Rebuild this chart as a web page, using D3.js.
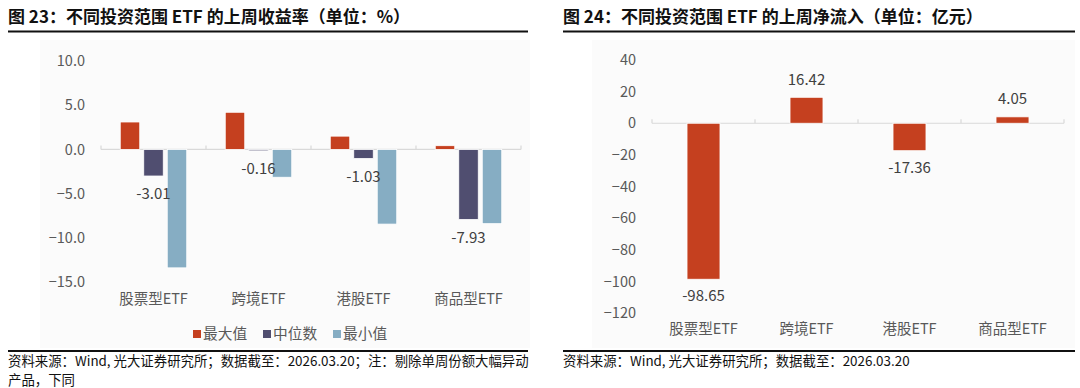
<!DOCTYPE html>
<html>
<head>
<meta charset="utf-8">
<script src="https://cdn.jsdelivr.net/npm/d3@7"></script>
<style>
  body { margin: 0; background: #fff; }
  svg text { font-family: "Noto Sans CJK SC", "Noto Sans", sans-serif; }
</style>
</head>
<body>
<div class="chart"></div>
<script>
// DATA ---------------------------------------------------------------

const categories = ['股票型ETF', '跨境ETF', '港股ETF', '商品型ETF'];

// left chart: weekly return (%)
const seriesNames = ['最大值', '中位数', '最小值'];
const maxValues = [3.1, 4.2, 1.5, 0.42];
const medianValues = [-3.01, -0.16, -1.03, -7.93];
const minValues = [-13.4, -3.15, -8.45, -8.4];
const returnTicks = [-15, -10, -5, 0, 5, 10];

// right chart: weekly net inflow (100m CNY)
const flowValues = [-98.65, 16.42, -17.36, 4.05];
const flowTicks = [-120, -100, -80, -60, -40, -20, 0, 20, 40];

const colors = ['#c5401f', '#504e70', '#86adc3'];

// CHART INIT ---------------------------------------------------------

const svg = d3.select('.chart')
    .append('svg')
    .attr('width', 1080)
    .attr('height', 388);

// faint plot backgrounds
svg.append('rect').attr('x', 40).attr('y', 40).attr('width', 490).attr('height', 308).attr('fill', '#fbfbfb');
svg.append('rect').attr('x', 592).attr('y', 40).attr('width', 483).attr('height', 308).attr('fill', '#fbfbfb');

// titles + rules
function header(x0, x1, title) {
    svg.append('text')
        .attr('x', x0).attr('y', 23)
        .attr('font-size', 17).attr('font-weight', 'bold').attr('fill', '#111')
        .text(title);
    svg.append('line')
        .attr('x1', x0).attr('x2', x1).attr('y1', 31.5).attr('y2', 31.5)
        .attr('stroke', '#111').attr('stroke-width', 2);
}
header(8, 528, '图 23：不同投资范围 ETF 的上周收益率（单位：%）');
header(563, 1075, '图 24：不同投资范围 ETF 的上周净流入（单位：亿元）');

// footers
function footer(x0, x1, lines) {
    svg.append('line')
        .attr('x1', x0).attr('x2', x1).attr('y1', 351).attr('y2', 351)
        .attr('stroke', '#111').attr('stroke-width', 2);
    lines.forEach((t, i) => {
        svg.append('text')
            .attr('x', x0).attr('y', 366 + i * 19)
            .attr('font-size', 13.4).attr('fill', '#111')
            .text(t);
    });
}
footer(8, 528, ['资料来源：Wind, 光大证券研究所；数据截至：2026.03.20；注：剔除单周份额大幅异动', '产品，下同']);
footer(563, 1075, ['资料来源：Wind, 光大证券研究所；数据截至：2026.03.20']);

// shared helpers
function styleAxis(g) {
    g.select('.domain').remove();
    g.selectAll('.tick line').remove();
    g.selectAll('.tick text')
        .attr('font-size', 14.5)
        .attr('fill', '#595959')
        .style('font-family', '"Noto Sans CJK SC", "Noto Sans", sans-serif');
}

function zeroLine(g, xScale, yScale) {
    const r = xScale.range();
    g.append('line')
        .attr('x1', r[0]).attr('x2', r[1])
        .attr('y1', yScale(0)).attr('y2', yScale(0))
        .attr('stroke', '#d9d9d9').attr('stroke-width', 1.2);
    const edges = categories.map(c => xScale(c) - xScale.step() * xScale.paddingOuter()).concat([r[1]]);
    g.selectAll('.cat-tick')
        .data(edges)
        .join('line')
        .attr('class', 'cat-tick')
        .attr('x1', d => d).attr('x2', d => d)
        .attr('y1', yScale(0) - 4).attr('y2', yScale(0))
        .attr('stroke', '#d9d9d9').attr('stroke-width', 1.2);
}

// LEFT CHART ---------------------------------------------------------

const left = svg.append('g');

const xL = d3.scaleBand()
    .domain(categories)
    .range([101, 521])
    .paddingInner(0.3667)
    .paddingOuter(0.1833);

const subX = d3.scaleBand()
    .domain(seriesNames)
    .range([0, xL.bandwidth()])
    .paddingInner(0.17)
    .paddingOuter(0);

const yL = d3.scaleLinear()
    .domain([-15, 10])
    .range([282, 61]);

left.append('g')
    .attr('transform', 'translate(101,0)')
    .call(d3.axisLeft(yL).tickValues(returnTicks).tickFormat(d3.format('.1f')).tickSize(0).tickPadding(16))
    .call(styleAxis);

zeroLine(left, xL, yL);

const leftRows = [];
categories.forEach((c, i) => {
    [maxValues, medianValues, minValues].forEach((arr, j) => {
        leftRows.push({cat: c, series: seriesNames[j], idx: j, value: arr[i]});
    });
});

left.selectAll('rect.bar')
    .data(leftRows)
    .join('rect')
    .attr('class', 'bar')
    .attr('x', d => xL(d.cat) + subX(d.series))
    .attr('width', subX.bandwidth())
    .attr('y', d => yL(Math.max(0, d.value)))
    .attr('height', d => Math.abs(yL(d.value) - yL(0)))
    .attr('fill', d => colors[d.idx])
    .attr('stroke', '#fff')
    .attr('stroke-width', 0.8);

// labels on medians only
left.selectAll('text.lbl')
    .data(leftRows.filter(d => d.idx === 1))
    .join('text')
    .attr('class', 'lbl')
    .attr('x', d => xL(d.cat) + subX(d.series) + subX.bandwidth() / 2)
    .attr('y', d => yL(d.value) + 18)
    .attr('dy', '0.35em')
    .attr('text-anchor', 'middle')
    .attr('font-size', 15)
    .attr('fill', '#404040')
    .text(d => d.value.toFixed(2));

// category labels
left.append('g')
    .attr('transform', 'translate(0,294)')
    .call(d3.axisBottom(xL).tickSize(0).tickPadding(0))
    .call(styleAxis);

// legend
const legend = left.append('g').attr('transform', 'translate(193,334)');
const legendStep = 70;
seriesNames.forEach((s, i) => {
    const g = legend.append('g').attr('transform', 'translate(' + (i * legendStep) + ',0)');
    g.append('rect').attr('x', 0).attr('y', -4).attr('width', 8).attr('height', 8).attr('fill', colors[i]);
    g.append('text').attr('x', 10).attr('y', 0).attr('dy', '0.35em')
        .attr('font-size', 14.7).attr('fill', '#595959').text(s);
});

// RIGHT CHART --------------------------------------------------------

const right = svg.append('g');

const xR = d3.scaleBand()
    .domain(categories)
    .range([652, 1064])
    .paddingInner(0.68)
    .paddingOuter(0.34);

const yR = d3.scaleLinear()
    .domain([-120, 40])
    .range([313, 60]);

right.append('g')
    .attr('transform', 'translate(652,0)')
    .call(d3.axisLeft(yR).tickValues(flowTicks).tickSize(0).tickPadding(16))
    .call(styleAxis);

zeroLine(right, xR, yR);

const flowRows = categories.map((c, i) => ({cat: c, value: flowValues[i]}));

right.selectAll('rect.bar')
    .data(flowRows)
    .join('rect')
    .attr('class', 'bar')
    .attr('x', d => xR(d.cat))
    .attr('width', xR.bandwidth())
    .attr('y', d => yR(Math.max(0, d.value)))
    .attr('height', d => Math.abs(yR(d.value) - yR(0)))
    .attr('fill', colors[0])
    .attr('stroke', '#fff')
    .attr('stroke-width', 0.8);

right.selectAll('text.lbl')
    .data(flowRows)
    .join('text')
    .attr('class', 'lbl')
    .attr('x', d => xR(d.cat) + xR.bandwidth() / 2)
    .attr('y', d => d.value < 0 ? yR(d.value) + 17 : yR(d.value) - 18)
    .attr('dy', '0.35em')
    .attr('text-anchor', 'middle')
    .attr('font-size', 15)
    .attr('fill', '#404040')
    .text(d => d.value.toFixed(2));

right.append('g')
    .attr('transform', 'translate(0,324)')
    .call(d3.axisBottom(xR).tickSize(0).tickPadding(0))
    .call(styleAxis);
</script>
</body>
</html>
